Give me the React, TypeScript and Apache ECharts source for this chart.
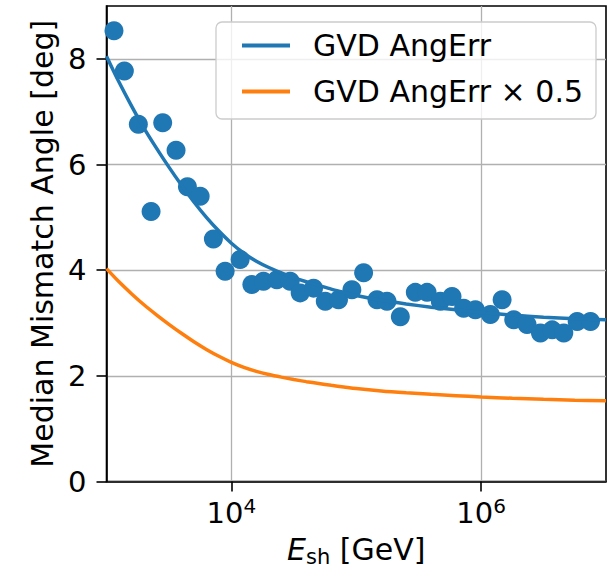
import React, { useEffect, useRef } from "react";
import * as echarts from "echarts";

// log10 of shower energy [GeV] for each binned median point
const pointLogE = [
  2.95, 3.06, 3.143, 3.255, 3.357, 3.45, 3.557, 3.648, 3.75, 3.856, 3.95, 4.07, 4.164, 4.257,
  4.364, 4.471, 4.551, 4.658, 4.752, 4.858, 4.965, 5.059, 5.166, 5.246, 5.353, 5.473, 5.567,
  5.673, 5.767, 5.86, 5.954, 6.074, 6.168, 6.261, 6.368, 6.475, 6.569, 6.662, 6.769, 6.876,
];
const pointAngle = [
  7.55, 8.53, 7.77, 6.76, 5.11, 6.79, 6.27, 5.58, 5.4, 4.59, 3.98, 4.2, 3.73, 3.79, 3.82, 3.79,
  3.57, 3.66, 3.41, 3.44, 3.63, 3.95, 3.44, 3.41, 3.12, 3.58, 3.58, 3.41, 3.5, 3.28, 3.25, 3.16,
  3.44, 3.06, 2.97, 2.81, 2.87, 2.81, 3.03, 3.03,
];

// fitted GVD angular error curve
const curveLogE = [
  3.0, 3.1, 3.2, 3.3, 3.4, 3.5, 3.6, 3.7, 3.8, 3.9, 4.0, 4.1, 4.2, 4.3, 4.4, 4.5, 4.6, 4.7, 4.8,
  4.9, 5.0, 5.2, 5.4, 5.6, 5.8, 6.0, 6.25, 6.5, 6.75, 7.0,
];
const fitAngle = [
  8.05, 7.56, 7.11, 6.69, 6.31, 5.95, 5.61, 5.29, 5.0, 4.74, 4.51, 4.32, 4.17, 4.05, 3.95, 3.86,
  3.78, 3.71, 3.64, 3.58, 3.52, 3.43, 3.36, 3.3, 3.25, 3.2, 3.15, 3.11, 3.08, 3.06,
];
const halfFitAngle = [
  4.03, 3.78, 3.555, 3.345, 3.155, 2.975, 2.805, 2.645, 2.5, 2.37, 2.255, 2.16, 2.085, 2.025,
  1.975, 1.93, 1.89, 1.855, 1.82, 1.79, 1.76, 1.715, 1.68, 1.65, 1.625, 1.6, 1.575, 1.555, 1.54,
  1.53,
];

const xTickExponents = [4, 6];
const yTicks = [0, 2, 4, 6, 8];
const seriesNames = ["GVD AngErr", "GVD AngErr × 0.5"];
const xTitle = { main: "E", sub: "sh", rest: " [GeV]" };
const yTitle = "Median Mismatch Angle [deg]";

const BLUE = "#1f77b4";
const ORANGE = "#ff7f0e";
const FONT = "DejaVu Sans";

export default function App() {
  const ref = useRef<HTMLDivElement>(null);

  useEffect(() => {
    const chart = echarts.init(ref.current!, null, { renderer: "svg" });
    const points = pointLogE.map((x, i) => [x, pointAngle[i]]);
    const fit = curveLogE.map((x, i) => [x, fitAngle[i]]);
    const half = curveLogE.map((x, i) => [x, halfFitAngle[i]]);

    chart.setOption({
      animation: false,
      textStyle: { fontFamily: FONT },
      grid: {
        left: 106.5,
        top: 6,
        right: 9,
        bottom: 96.5,
        show: true,
        borderColor: "#000",
        borderWidth: 1.6,
        backgroundColor: "transparent",
      },
      legend: {
        data: seriesNames,
        orient: "vertical",
        left: 216,
        top: 22,
        padding: [8.5, 13, 12.5, 26],
        itemGap: 16,
        itemWidth: 48,
        itemHeight: 4,
        icon: "rect",
        backgroundColor: "rgba(255,255,255,0.8)",
        borderColor: "#cccccc",
        borderWidth: 1.3,
        borderRadius: 6,
        textStyle: { fontFamily: FONT, fontSize: 30, color: "#000", padding: [0, 0, 0, 18] },
      },
      xAxis: {
        type: "value",
        min: 3,
        max: 7,
        axisLine: { show: true, lineStyle: { color: "#000", width: 1.6 } },
        axisTick: {
          show: true,
          length: 10,
          customValues: xTickExponents,
          lineStyle: { color: "#000", width: 1.6 },
        },
        axisLabel: {
          customValues: xTickExponents,
          margin: 14,
          formatter: (v: number) => `{b|10}{s|${v}}`,
          rich: {
            b: { fontFamily: FONT, fontSize: 29, color: "#000", lineHeight: 34 },
            s: { fontFamily: FONT, fontSize: 20, color: "#000", verticalAlign: "top", lineHeight: 20 },
          },
        },
        splitLine: { show: true, lineStyle: { color: "#b0b0b0", width: 1.3 } },
        name: `{i|${xTitle.main}}{sub|${xTitle.sub}}{n|${xTitle.rest}}`,
        nameLocation: "middle",
        nameGap: 50,
        nameTextStyle: {
          rich: {
            i: { fontFamily: FONT, fontSize: 30, fontStyle: "italic", color: "#000", lineHeight: 36 },
            sub: { fontFamily: FONT, fontSize: 21, color: "#000", verticalAlign: "bottom", lineHeight: 30 },
            n: { fontFamily: FONT, fontSize: 30, color: "#000", lineHeight: 36 },
          },
        },
      },
      yAxis: {
        type: "value",
        min: 0,
        max: 9,
        axisLine: { show: true, lineStyle: { color: "#000", width: 1.6 } },
        axisTick: {
          show: true,
          length: 10,
          customValues: yTicks,
          lineStyle: { color: "#000", width: 1.6 },
        },
        axisLabel: {
          customValues: yTicks,
          margin: 20,
          fontFamily: FONT,
          fontSize: 29,
          color: "#000",
        },
        splitLine: { show: true, lineStyle: { color: "#b0b0b0", width: 1.3 } },
        name: yTitle,
        nameLocation: "middle",
        nameGap: 46,
        nameTextStyle: { fontFamily: FONT, fontSize: 30, color: "#000" },
      },
      series: [
        {
          type: "scatter",
          name: "points",
          data: points,
          symbol: "circle",
          symbolSize: 19,
          itemStyle: { color: BLUE, opacity: 1 },
          z: 2,
          clip: true,
        },
        {
          type: "line",
          name: seriesNames[0],
          data: fit,
          smooth: 0.3,
          showSymbol: false,
          symbol: "none",
          lineStyle: { color: BLUE, width: 3.5 },
          itemStyle: { color: BLUE },
          z: 3,
        },
        {
          type: "line",
          name: seriesNames[1],
          data: half,
          smooth: 0.3,
          showSymbol: false,
          symbol: "none",
          lineStyle: { color: ORANGE, width: 3.5 },
          itemStyle: { color: ORANGE },
          z: 3,
        },
      ],
    });
    return () => chart.dispose();
  }, []);

  return (
    <div
      ref={ref}
      style={{ position: "fixed", left: 0, top: 0, width: 615, height: 578, background: "#fff" }}
    />
  );
}
